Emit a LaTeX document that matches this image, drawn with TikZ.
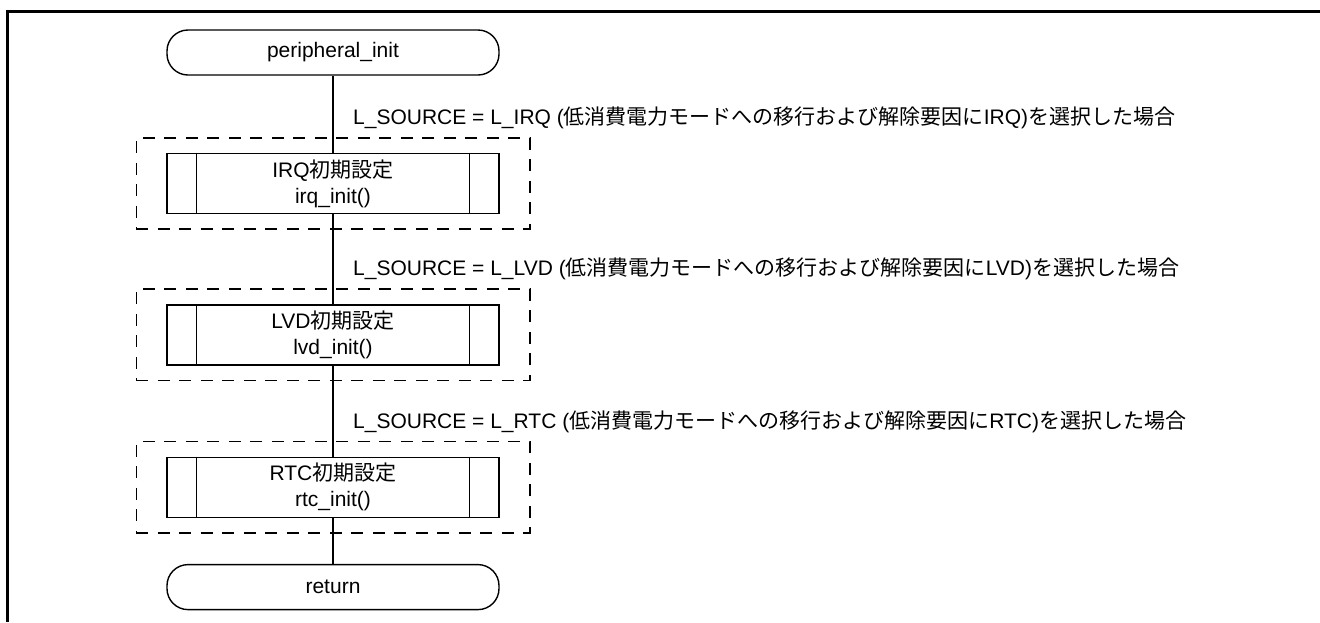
\documentclass[tikz,border=0pt]{standalone}
\usepackage{fontspec}
\setmainfont{Liberation Sans}
\newfontfamily\jpfont{Noto Sans CJK JP}
\usetikzlibrary{positioning,fit,backgrounds}
\tikzset{
  basic-style/.style = {
    rectangle, draw, line width=1.4pt,
    font=\fontsize{21}{26}\selectfont,
    align=center,
    inner sep=0pt
  },
  term-style/.style = {
    basic-style,
    rounded corners=21pt,
    minimum width=332pt,
    minimum height=45pt
  },
  sub-style/.style = {
    basic-style,
    minimum width=332pt,
    minimum height=60pt
  },
  group-style/.style = {
    rectangle, draw=black, line width=1.6pt,
    dash pattern=on 12pt off 9.5pt,
    inner xsep=30pt, inner ysep=15pt
  },
  cond-style/.style = {
    font=\fontsize{21}{24}\selectfont,
    inner sep=0pt, anchor=west
  },
  flow-style/.style = {
    draw, line width=1.4pt
  }
}
\newcommand\drawSubBars[1]{
  \draw[line width=1.4pt] ([xshift=30pt]#1.north west) -- ([xshift=30pt]#1.south west);
  \draw[line width=1.4pt] ([xshift=-30pt]#1.north east) -- ([xshift=-30pt]#1.south east);
}

\begin{document}
\begin{tikzpicture}[x=1pt,y=1pt]
    \useasboundingbox (0,0) rectangle (1320,-622);

    %%% page frame
    \draw[line width=3pt] (7.5,-622) -- (7.5,-11.5) -- (1320,-11.5);

    %%% terminals and subroutines
    \node[term-style] (start) at (333,-52.5) {peripheral\_init};
    \node[sub-style,below=77pt of start] (irqInit) {IRQ{\jpfont 初期設定}\\irq\_init()};
    \node[sub-style,below=90pt of irqInit] (lvdInit) {LVD{\jpfont 初期設定}\\lvd\_init()};
    \node[sub-style,below=91pt of lvdInit] (rtcInit) {RTC{\jpfont 初期設定}\\rtc\_init()};
    \node[term-style,below=46pt of rtcInit] (ret) {return};
    \drawSubBars{irqInit}
    \drawSubBars{lvdInit}
    \drawSubBars{rtcInit}

    %%% conditional groups
    \node[group-style,fit=(irqInit)] (irqGroup) {};
    \node[group-style,fit=(lvdInit)] (lvdGroup) {};
    \node[group-style,fit=(rtcInit)] (rtcGroup) {};
    \node[cond-style] (irqCond) at ([xshift=20pt,yshift=19pt]irqGroup.north)
      {L\_SOURCE = L\_IRQ ({\jpfont 低消費電力モードへの移行および解除要因に}IRQ){\jpfont を選択した場合}};
    \node[cond-style] (lvdCond) at ([xshift=20pt,yshift=19pt]lvdGroup.north)
      {L\_SOURCE = L\_LVD ({\jpfont 低消費電力モードへの移行および解除要因に}LVD){\jpfont を選択した場合}};
    \node[cond-style] (rtcCond) at ([xshift=20pt,yshift=19pt]rtcGroup.north)
      {L\_SOURCE = L\_RTC ({\jpfont 低消費電力モードへの移行および解除要因に}RTC){\jpfont を選択した場合}};

    %%% flow lines
    \path[flow-style] (start.south) -- (irqInit.north);
    \path[flow-style] (irqInit.south) -- (lvdInit.north);
    \path[flow-style] (lvdInit.south) -- (rtcInit.north);
    \path[flow-style] (rtcInit.south) -- (ret.north);
\end{tikzpicture}
\end{document}
